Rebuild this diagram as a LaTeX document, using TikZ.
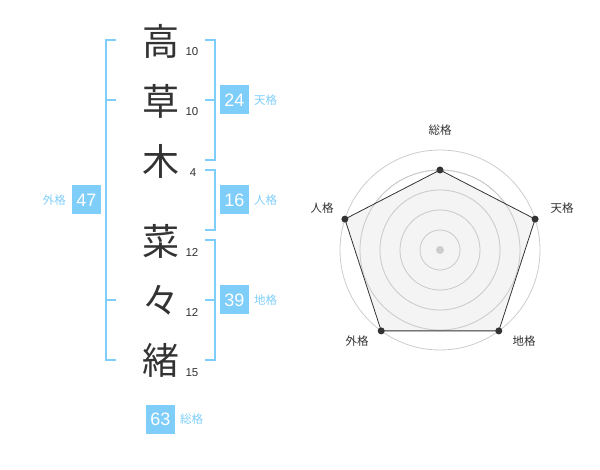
\documentclass[tikz,border=0pt]{standalone}
\usepackage{fontspec}
\setmainfont{Liberation Sans}
\newfontfamily\jp{Noto Sans CJK JP}
\definecolor{skyb}{HTML}{7FCEFA}
\definecolor{dk}{HTML}{333333}
\definecolor{ring}{HTML}{CCCCCC}
\definecolor{area}{HTML}{F2F2F2}
\tikzset{
  kanji/.style={font=\jp\fontsize{37}{37}\selectfont, text=dk, inner sep=0pt},
  strokes/.style={font=\fontsize{11.5}{12}\selectfont, text=dk, inner sep=0pt},
  valbox/.style={fill=skyb, text=white, minimum width=29pt, minimum height=29pt, inner sep=0pt, font=\fontsize{18}{18}\selectfont},
  kaku/.style={font=\jp\fontsize{11.5}{12}\selectfont, text=skyb, inner sep=0pt},
  brk/.style={draw=skyb, line width=2pt},
  ringc/.style={draw=ring, line width=0.8pt},
  axislbl/.style={font=\jp\fontsize{11.5}{12}\selectfont, text=dk, inner sep=0pt},
  dot/.style={circle, fill=dk, inner sep=0pt, minimum size=7pt},
}
\begin{document}
\begin{tikzpicture}[x=1pt,y=-1pt]
\useasboundingbox (0,0) rectangle (600,470);
% characters
\node[kanji] (k1) at (161,41) {高};
\node[kanji] (k2) at (161,101) {草};
\node[kanji] (k3) at (161,161) {木};
\node[kanji] (k4) at (161,241) {菜};
\node[kanji] (k5) at (161,300) {々};
\node[kanji] (k6) at (161,360) {緒};
% stroke counts
\node[strokes] (s1) at (192,52) {10};
\node[strokes] (s2) at (192,112) {10};
\node[strokes] (s3) at (193,173) {4};
\node[strokes] (s4) at (192,252) {12};
\node[strokes] (s5) at (192,312) {12};
\node[strokes] (s6) at (192,373) {15};
% brackets
\draw[brk] (116,40) -- (106,40) -- (106,360) -- (116,360);
\draw[brk] (106,100) -- (116,100);
\draw[brk] (106,300) -- (116,300);
\draw[brk] (205,40) -- (215,40) -- (215,160) -- (205,160);
\draw[brk] (205,100) -- (215,100);
\draw[brk] (205,170) -- (215,170) -- (215,230) -- (205,230);
\draw[brk] (205,240) -- (215,240) -- (215,360) -- (205,360);
\draw[brk] (205,300) -- (215,300);
% value boxes
\node[valbox] (b24) at (234.5,100) {24};
\node[kaku, anchor=west] (l24) at (254,100) {天格};
\node[valbox] (b16) at (234.5,200) {16};
\node[kaku, anchor=west] (l16) at (254,200) {人格};
\node[valbox] (b39) at (234.5,300) {39};
\node[kaku, anchor=west] (l39) at (254,300) {地格};
\node[valbox] (b47) at (86.5,200) {47};
\node[kaku, anchor=east] (l47) at (66,200) {外格};
\node[valbox] (b63) at (160.5,419) {63};
\node[kaku, anchor=west] (l63) at (180,419) {総格};
% radar
\coordinate (c) at (440,250);
\foreach \r in {20,40,60,80,100} \draw[ringc] (c) circle[radius=\r];
\coordinate (pS) at (440,170);
\coordinate (pT) at (535.1,219.1);
\coordinate (pC) at (498.8,330.9);
\coordinate (pG) at (381.2,330.9);
\coordinate (pJ) at (344.9,219.1);
\fill[area, opacity=0.85] (pS) -- (pT) -- (pC) -- (pG) -- (pJ) -- cycle;
\foreach \r in {20,40,60,80} \draw[ringc] (c) circle[radius=\r];
\draw[dk, line width=0.8pt] (pS) -- (pT) -- (pC) -- (pG) -- (pJ) -- cycle;
\node[circle, fill=ring, inner sep=0pt, minimum size=8pt] (ctr) at (c) {};
\node[dot] (dS) at (pS) {};
\node[dot] (dT) at (pT) {};
\node[dot] (dC) at (pC) {};
\node[dot] (dG) at (pG) {};
\node[dot] (dJ) at (pJ) {};
\node[axislbl] (aS) at (440,130) {総格};
\node[axislbl] (aT) at (562,208) {天格};
\node[axislbl] (aC) at (524,341) {地格};
\node[axislbl] (aG) at (357,341) {外格};
\node[axislbl] (aJ) at (322,208) {人格};
\end{tikzpicture}
\end{document}
